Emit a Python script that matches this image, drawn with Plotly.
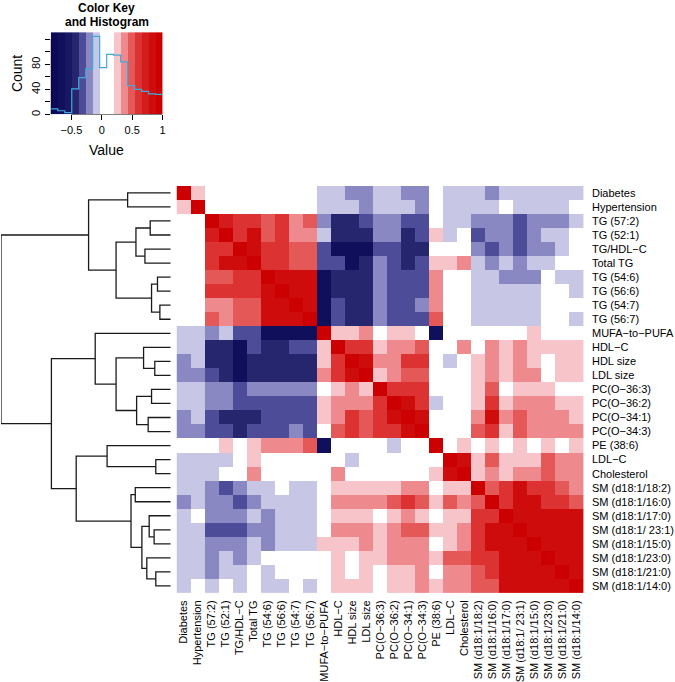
import plotly.graph_objects as go

labels = ["Diabetes", "Hypertension", "TG (57:2)", "TG (52:1)", "TG/HDL−C", "Total TG",
          "TG (54:6)", "TG (56:6)", "TG (54:7)", "TG (56:7)", "MUFA−to−PUFA", "HDL−C",
          "HDL size", "LDL size", "PC(O−36:3)", "PC(O−36:2)", "PC(O−34:1)", "PC(O−34:3)",
          "PE (38:6)", "LDL−C", "Cholesterol", "SM (d18:1/18:2)", "SM (d18:1/16:0)",
          "SM (d18:1/17:0)", "SM (d18:1/ 23:1)", "SM (d18:1/15:0)", "SM (d18:1/23:0)",
          "SM (d18:1/21:0)", "SM (d18:1/14:0)"]

corr = [
    [1.0, .25, .05, .05, .05, .05, .05, .05, .05, .05, -.10, -.10, -.21, -.21, -.10, -.10, -.21, -.21, .05, -.10, -.10, -.10, -.21, -.10, -.10, -.10, -.10, -.10, -.10],
    [.25, 1.0, .05, .05, .05, .05, .05, .05, .05, .05, -.10, -.10, -.10, -.21, -.10, -.10, -.10, -.21, .05, -.10, -.10, -.10, -.10, .05, -.10, -.10, -.10, -.10, .05],
    [.05, .05, 1.0, .71, .60, .60, .49, .60, .37, .49, -.21, -.45, -.45, -.33, -.21, -.21, -.33, -.33, .05, -.10, -.10, -.21, -.21, -.21, -.33, -.21, -.21, -.21, -.10],
    [.05, .05, .71, 1.0, .60, .83, .49, .60, .37, .37, -.10, -.45, -.45, -.45, -.21, -.21, -.45, -.33, .25, -.10, .05, -.33, -.21, -.21, -.33, -.21, -.10, -.10, .05],
    [.05, .05, .60, .60, 1.0, .83, .60, .60, .49, .49, -.33, -.70, -.70, -.70, -.33, -.33, -.45, -.45, .05, .05, .05, -.21, -.33, -.21, -.33, -.21, -.21, -.10, .05],
    [.05, .05, .60, .83, .83, 1.0, .60, .60, .49, .49, -.33, -.33, -.70, -.45, -.21, -.33, -.45, -.33, .25, .25, .37, -.10, -.21, -.10, -.21, -.10, -.10, .05, .05],
    [.05, .05, .49, .49, .60, .60, 1.0, .83, .83, .83, -.70, -.45, -.45, -.45, -.21, -.33, -.33, -.33, .37, .05, .05, -.10, -.10, -.21, -.21, -.21, .05, -.10, -.10],
    [.05, .05, .60, .60, .60, .60, .83, 1.0, .83, .83, -.70, -.45, -.45, -.45, -.21, -.33, -.33, -.33, .37, .05, .05, -.10, -.10, -.10, -.10, -.10, .05, .05, -.10],
    [.05, .05, .37, .37, .49, .49, .83, .83, 1.0, .83, -.70, -.33, -.45, -.45, -.21, -.33, -.33, -.21, .37, .05, .05, -.10, -.10, -.10, -.10, -.10, .05, .05, .05],
    [.05, .05, .49, .37, .49, .49, .83, .83, .83, 1.0, -.70, -.33, -.45, -.45, -.21, -.33, -.33, -.33, .49, .05, .05, -.10, -.10, -.10, -.10, -.10, .05, .05, -.10],
    [-.10, -.10, -.21, -.10, -.33, -.33, -.70, -.70, -.70, -.70, 1.0, .25, .25, .37, .05, .25, .25, .05, -.70, .05, .05, .05, .05, .05, .05, .25, .05, .05, .05],
    [-.10, -.10, -.45, -.45, -.70, -.33, -.45, -.45, -.33, -.33, .25, 1.0, .60, .60, .25, .37, .37, .49, .05, .05, .37, .05, .37, .25, .37, .25, .25, .25, .25],
    [-.21, -.10, -.45, -.45, -.70, -.45, -.45, -.45, -.45, -.45, .25, .60, 1.0, .83, .37, .37, .60, .60, .05, -.10, .05, .25, .37, .25, .37, .25, .05, .25, .25],
    [-.21, -.21, -.33, -.45, -.70, -.45, -.45, -.45, -.45, -.45, .37, .60, .83, 1.0, .25, .37, .49, .49, .05, .05, .05, .25, .37, .25, .37, .37, .05, .25, .25],
    [-.10, -.10, -.21, -.21, -.33, -.21, -.21, -.21, -.21, -.21, .05, .25, .37, .25, 1.0, .60, .60, .60, .05, .05, .05, .25, .49, .05, .25, .25, .25, .05, .05],
    [-.10, -.10, -.21, -.21, -.33, -.33, -.33, -.33, -.33, -.33, .25, .37, .37, .37, .60, 1.0, .83, .60, -.10, .05, .05, .25, .60, .25, .37, .37, .37, .25, .25],
    [-.21, -.10, -.33, -.45, -.45, -.45, -.33, -.33, -.33, -.33, .25, .37, .60, .49, .60, .83, 1.0, .83, .05, .05, .05, .37, .83, .37, .49, .37, .37, .37, .25],
    [-.21, -.21, -.33, -.33, -.45, -.33, -.33, -.33, -.21, -.33, .05, .49, .60, .49, .60, .60, .83, 1.0, .05, .05, .05, .49, .60, .25, .49, .37, .37, .37, .37],
    [.05, .05, .05, .25, .05, .25, .37, .37, .37, .49, -.70, .05, .05, .05, .05, -.10, .05, .05, 1.0, .05, .25, .05, .25, .05, .25, .05, .25, .05, .25],
    [-.10, -.10, -.10, -.10, .05, .25, .05, .05, .05, .05, .05, .05, -.10, .05, .05, .05, .05, .05, .05, 1.0, .83, .25, .49, .25, .25, .25, .49, .37, .37],
    [-.10, -.10, -.10, .05, .05, .37, .05, .05, .05, .05, .05, .37, .05, .05, .05, .05, .05, .05, .25, .83, 1.0, .25, .37, .25, .37, .37, .49, .37, .37],
    [-.10, -.10, -.21, -.33, -.21, -.10, -.10, .05, -.10, -.10, .05, .25, .25, .25, .25, .25, .37, .37, .05, .25, .25, 1.0, .49, .60, .83, .60, .60, .49, .37],
    [-.21, -.10, -.21, -.21, -.33, -.21, -.10, -.10, -.10, -.10, .05, .37, .37, .37, .37, .49, .60, .49, .25, .49, .37, .49, 1.0, .60, .83, .83, .60, .60, .49],
    [-.10, .05, -.21, -.21, -.21, -.10, -.21, -.10, -.10, -.10, .05, .25, .25, .25, .05, .25, .37, .25, .05, .25, .25, .60, .60, 1.0, .83, .83, .83, .83, .83],
    [-.10, -.10, -.33, -.33, -.33, -.21, -.21, -.10, -.10, -.10, .05, .37, .37, .37, .25, .37, .49, .49, .25, .25, .37, .60, .83, .83, 1.0, .83, .83, .83, .83],
    [-.10, -.10, -.21, -.21, -.21, -.10, -.21, -.10, -.10, -.10, .25, .25, .25, .37, .25, .37, .37, .37, .05, .25, .37, .60, .83, .83, .83, 1.0, .83, .83, .83],
    [-.10, -.10, -.21, -.10, -.21, -.10, .05, .05, .05, .05, .05, .25, .05, .25, .25, .37, .37, .37, .25, .49, .49, .60, .60, .83, .83, .83, 1.0, .83, .83],
    [-.10, -.10, -.21, -.10, -.10, .05, -.10, .05, .05, .05, .05, .25, .05, .25, .05, .25, .25, .37, .05, .37, .37, .49, .60, .83, .83, .83, .83, 1.0, .83],
    [-.10, .05, -.10, .05, -.10, .05, -.10, -.10, .05, -.10, .05, .25, .25, .25, .05, .25, .25, .37, .25, .37, .37, .49, .49, .83, .83, .83, .83, .83, 1.0],
]

# row dendrogram: leaves 0..28 in display order, merges create nodes 29, 30, ...
merge_left = [0, 2, 4, 30, 6, 8, 33, 32, 29, 12, 11, 14, 16, 40, 39, 10, 19, 18, 21, 24, 23, 27, 26, 49, 47, 46, 44, 37]
merge_right = [1, 3, 5, 31, 7, 9, 34, 35, 36, 13, 38, 15, 17, 41, 42, 43, 20, 45, 22, 25, 48, 28, 50, 51, 52, 53, 54, 55]
merge_height = [0.254, 0.121, 0.152, 0.205, 0.078, 0.064, 0.113, 0.322, 0.484, 0.094, 0.160,
                0.113, 0.133, 0.201, 0.322, 0.445, 0.088, 0.375, 0.209, 0.098, 0.127, 0.088,
                0.141, 0.170, 0.234, 0.557, 0.703, 1.0]

# colour key
key_min, key_max = -0.84, 1.0
palette = ["#0a0a58", "#0f0f5c", "#171764", "#26266e", "#4c4c98", "#8a88c2", "#c8c6e5", "#ffffff",
           "#ffffff", "#f7c4c9", "#ee8a8e", "#e45858", "#dc3232", "#d51c1c", "#cf0c0c", "#cc0000"]
hist_counts = [9, 6, 3, 41, 59, 73, 125, 75, 96, 95, 84, 46, 40, 37, 33, 32]
key_xticks = [-0.5, 0, 0.5, 1]
key_xtext = ["−0.5", "0", "0.5", "1"]
key_yticks = [0, 20, 40, 60, 80, 100, 120]
key_ytext = ["0", "", "40", "", "80", "", ""]

W, H = 675, 682
FONT = "Liberation Sans, Arial, Helvetica, sans-serif"


def px_x(p):
    return p / W


def px_y(p):
    return 1 - p / H


nb = len(palette)
cscale = []
for i, c in enumerate(palette):
    cscale.append([i / nb, c])
    cscale.append([(i + 1) / nb, c])

n = len(labels)
fig = go.Figure()

fig.add_trace(go.Heatmap(z=corr, x=list(range(n)), y=list(range(n)), colorscale=cscale,
                         zmin=key_min, zmax=key_max, showscale=False, xaxis="x", yaxis="y",
                         hoverinfo="skip"))

# dendrogram
pos = {i: float(i) for i in range(n)}
hgt = {i: 0.0 for i in range(n)}
dx, dy = [], []
for k, (a, b, h) in enumerate(zip(merge_left, merge_right, merge_height)):
    node = n + k
    dx += [hgt[a], h, h, hgt[b], None]
    dy += [pos[a], pos[a], pos[b], pos[b], None]
    pos[node] = (pos[a] + pos[b]) / 2
    hgt[node] = h
fig.add_trace(go.Scatter(x=dx, y=dy, mode="lines", line=dict(color="#1a1a1a", width=1.3),
                         xaxis="x3", yaxis="y3", hoverinfo="skip", cliponaxis=False))

# colour key
breaks = [key_min + i * (key_max - key_min) / nb for i in range(nb + 1)]
centers = [(breaks[i] + breaks[i + 1]) / 2 for i in range(nb)]
ymax = max(hist_counts) / 0.95
fig.add_trace(go.Heatmap(z=[centers], x=breaks, y=[0, ymax], colorscale=cscale, zmin=key_min,
                         zmax=key_max, showscale=False, xaxis="x2", yaxis="y2", hoverinfo="skip"))
fig.add_trace(go.Scatter(x=breaks, y=hist_counts + [hist_counts[-1]], mode="lines",
                         line=dict(color="#3fa9dc", width=1.2, shape="hv"),
                         xaxis="x2", yaxis="y2", hoverinfo="skip", cliponaxis=False))

hm_x = [px_x(177.3), px_x(586.4)]
hm_y = [px_y(595.6), px_y(186.7)]
fig.update_layout(
    width=W, height=H, margin=dict(l=0, r=0, t=0, b=0),
    paper_bgcolor="white", plot_bgcolor="white", showlegend=False,
    font=dict(family=FONT, color="black", size=11),
    xaxis=dict(domain=hm_x, range=[-0.5, n - 0.5], tickvals=list(range(n)), ticktext=labels,
               tickangle=-90, tickfont=dict(size=11), showgrid=False, zeroline=False,
               ticks="outside", ticklen=2, tickcolor="rgba(0,0,0,0)", anchor="y", fixedrange=True),
    yaxis=dict(domain=hm_y, range=[n - 0.5, -0.5], tickvals=list(range(n)), ticktext=labels,
               side="right", tickfont=dict(size=11), showgrid=False, zeroline=False,
               ticks="outside", ticklen=5, tickcolor="rgba(0,0,0,0)", anchor="x", fixedrange=True),
    xaxis3=dict(domain=[px_x(1), px_x(171.5)], range=[1.0, 0], visible=False, anchor="y3"),
    yaxis3=dict(domain=hm_y, range=[n - 0.5, -0.5], visible=False, anchor="x3"),
    xaxis2=dict(domain=[px_x(51), px_x(163.3)], range=[key_min, key_max], anchor="y2",
                tickvals=key_xticks, ticktext=key_xtext, ticks="outside", ticklen=5,
                tickcolor="black", tickfont=dict(size=11), showgrid=False, zeroline=False,
                showline=False),
    yaxis2=dict(domain=[px_y(115), px_y(32.3)], range=[0, ymax], anchor="x2",
                tickvals=key_yticks, ticktext=key_ytext, ticks="outside", ticklen=5,
                tickcolor="black", tickangle=-90, tickfont=dict(size=11), showgrid=False,
                zeroline=False, showline=False),
    shapes=[
        dict(type="line", xref="x2", yref="y2", x0=key_xticks[0], x1=key_xticks[-1], y0=0, y1=0,
             line=dict(color="black", width=1)),
        dict(type="line", xref="x2", yref="y2", x0=key_min, x1=key_min, y0=key_yticks[0],
             y1=key_yticks[-1], line=dict(color="black", width=1)),
    ],
    annotations=[
        dict(text="<b>Color Key</b>", x=px_x(107), y=px_y(8.5), xref="paper", yref="paper",
             showarrow=False, font=dict(size=12), xanchor="center", yanchor="middle"),
        dict(text="<b>and Histogram</b>", x=px_x(107), y=px_y(22), xref="paper", yref="paper",
             showarrow=False, font=dict(size=12), xanchor="center", yanchor="middle"),
        dict(text="Value", x=px_x(107), y=px_y(151), xref="paper", yref="paper",
             showarrow=False, font=dict(size=14), xanchor="center", yanchor="middle"),
        dict(text="Count", x=px_x(17), y=px_y(73.5), xref="paper", yref="paper",
             showarrow=False, font=dict(size=14), textangle=-90, xanchor="center",
             yanchor="middle"),
    ],
)

fig.write_html("out.html", config={"displayModeBar": False},
               post_script="document.body.style.margin='0px';")
